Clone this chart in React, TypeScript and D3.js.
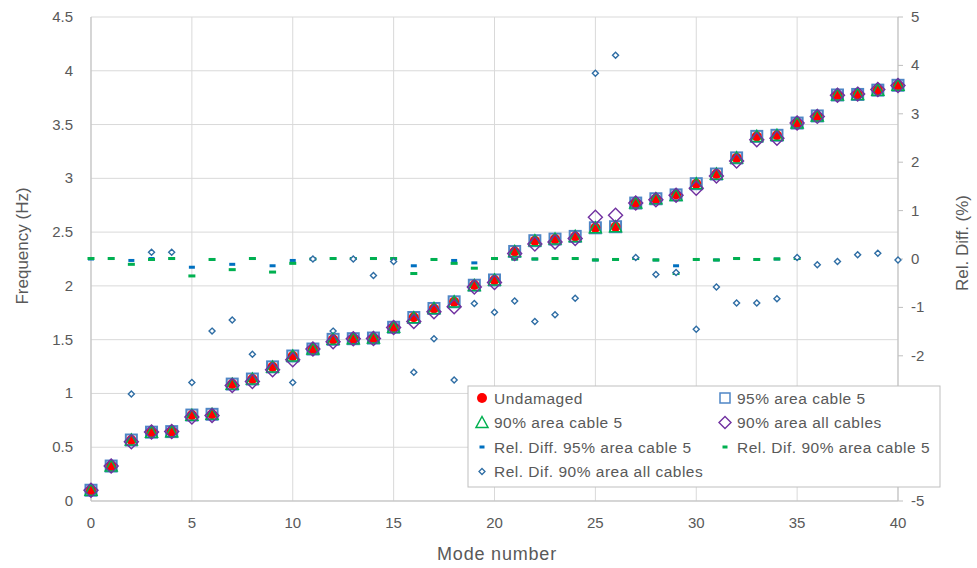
import React from 'react';
import * as d3 from 'd3';

// mode numbers 0..40
const modes = d3.range(0, 41);

// frequencies (Hz), left axis
const undamaged = [0.10, 0.325, 0.567, 0.64, 0.645, 0.80, 0.806, 1.088, 1.134, 1.249, 1.348, 1.413, 1.503, 1.509, 1.515, 1.615, 1.708, 1.79, 1.853, 2.008, 2.055,
  2.32, 2.42, 2.435, 2.46, 2.54, 2.55, 2.77, 2.81, 2.85, 2.95, 3.04, 3.19, 3.39, 3.40, 3.514, 3.58, 3.775, 3.78, 3.82, 3.865];
const area95cable5 = [0.10, 0.325, 0.567, 0.64, 0.645, 0.799, 0.806, 1.087, 1.134, 1.247, 1.348, 1.413, 1.503, 1.509, 1.515, 1.615, 1.706, 1.79, 1.852, 2.006, 2.055,
  2.32, 2.42, 2.435, 2.46, 2.54, 2.55, 2.77, 2.81, 2.846, 2.95, 3.04, 3.19, 3.39, 3.40, 3.514, 3.58, 3.775, 3.78, 3.82, 3.865];
const area90cable5 = [0.10, 0.325, 0.566, 0.64, 0.645, 0.797, 0.806, 1.086, 1.134, 1.246, 1.347, 1.413, 1.503, 1.509, 1.515, 1.615, 1.703, 1.79, 1.851, 2.004, 2.055,
  2.32, 2.42, 2.435, 2.46, 2.54, 2.55, 2.77, 2.81, 2.841, 2.95, 3.039, 3.19, 3.39, 3.40, 3.514, 3.58, 3.775, 3.78, 3.82, 3.865];
const area90all = [0.10, 0.325, 0.551, 0.641, 0.646, 0.78, 0.794, 1.074, 1.112, 1.221, 1.314, 1.413, 1.481, 1.509, 1.51, 1.614, 1.668, 1.76, 1.807, 1.99, 2.032,
  2.30, 2.389, 2.407, 2.44, 2.638, 2.657, 2.771, 2.801, 2.842, 2.907, 3.022, 3.161, 3.359, 3.372, 3.515, 3.576, 3.773, 3.783, 3.825, 3.864];

// relative differences (%), right axis
const relDiff95cable5 = [0, 0.01, -0.03, 0.01, 0.01, -0.17, -0.01, -0.11, 0.01, -0.14, -0.03, 0, 0.01, 0.01, 0.01, 0.01, -0.14, -0.01, -0.03, -0.08, 0.01,
  0, 0, 0.01, 0.01, -0.02, -0.01, 0.01, -0.02, -0.14, -0.01, -0.02, 0.01, -0.01, 0, 0.01, null, null, null, null, null];
const relDif90cable5 = [0.01, 0.01, -0.11, -0.01, 0.01, -0.35, -0.01, -0.22, 0.01, -0.27, -0.09, 0, 0.01, 0.01, 0.01, 0.01, -0.30, -0.01, -0.09, -0.19, 0.01,
  0, 0, 0.01, 0.01, -0.02, -0.01, 0.01, -0.02, -0.30, -0.01, -0.02, 0.01, -0.01, 0, 0.01, null, null, null, null, null];
const relDif90all = [null, null, -2.79, 0.14, 0.14, -2.55, -1.49, -1.26, -1.97, -2.25, -2.55, 0, -1.49, 0, -0.34, -0.05, -2.34, -1.65, -2.5, -0.92, -1.10,
  -0.87, -1.29, -1.15, -0.81, 3.84, 4.21, 0.03, -0.32, -0.28, -1.45, -0.58, -0.91, -0.91, -0.82, 0.03, -0.12, -0.05, 0.09, 0.12, -0.02];

const leftTicks = d3.range(0, 4.51, 0.5);
const rightTicks = d3.range(-5, 5.01, 1);
// -3 and -4 sit behind the legend box
const rightLabels = [5, 4, 3, 2, 1, 0, -1, -2, -5];
const xTicks = d3.range(0, 41, 5);

const legendItems = [
  'Undamaged', '95% area cable 5',
  '90% area cable 5', '90% area all cables',
  'Rel. Diff. 95% area cable 5', 'Rel. Dif. 90% area cable 5',
  'Rel. Dif. 90% area all cables',
];

const W = 977, H = 568;
const m = { left: 91, right: 898, top: 17, bottom: 501 };
const font = '"Liberation Sans", Arial, sans-serif';
const txt = '#595959';
const grid = '#d9d9d9';

const RED = '#ff0000';
const SQ = '#4f86c6';
const GREEN = '#00b050';
const PURPLE = '#7030a0';
const BLUE = '#0070c0';
const DKBLUE = '#2e6da4';

const fmt = (v: number) => (Math.round(v * 10) / 10).toString();

function Marker({ kind, x, y }: { kind: number; x: number; y: number }) {
  switch (kind) {
    case 0:
      return <circle cx={x} cy={y} r={5} fill={RED} />;
    case 1:
      return <rect x={x - 5.5} y={y - 5.5} width={11} height={11} fill="none" stroke={SQ} strokeWidth={2} />;
    case 2:
      return <path d={`M${x},${y - 6}L${x + 6},${y + 5}L${x - 6},${y + 5}Z`} fill="none" stroke={GREEN} strokeWidth={1.5} />;
    case 3:
      return <path d={`M${x},${y - 7}L${x + 7},${y}L${x},${y + 7}L${x - 7},${y}Z`} fill="none" stroke={PURPLE} strokeWidth={1.4} />;
    case 4:
      return <rect x={x - 3} y={y - 1.5} width={6} height={3} fill={BLUE} />;
    case 5:
      return <rect x={x - 3.5} y={y - 1.5} width={7} height={3} fill={GREEN} />;
    default:
      return <path d={`M${x},${y - 3}L${x + 3},${y}L${x},${y + 3}L${x - 3},${y}Z`} fill="white" stroke={DKBLUE} strokeWidth={1.4} />;
  }
}

export default function App() {
  const x = d3.scaleLinear().domain([0, 40]).range([m.left, m.right]);
  const yL = d3.scaleLinear().domain([0, 4.5]).range([m.bottom, m.top]);
  const yR = d3.scaleLinear().domain([-5, 5]).range([m.bottom, m.top]);

  const freqSeries = [undamaged, area95cable5, area90cable5, area90all];
  const relSeries = [relDiff95cable5, relDif90cable5, relDif90all];
  // draw order: squares, circles, triangles, diamonds
  const freqOrder = [1, 0, 2, 3];

  const lg = { x: 468, y: 386, w: 472, h: 101 };

  return (
    <svg width={W} height={H} style={{ position: 'absolute', left: 0, top: 0, background: 'white' }} fontFamily={font}>
      <rect width={W} height={H} fill="white" />
      {/* gridlines */}
      {leftTicks.map(t => (
        <line key={'h' + t} x1={m.left} x2={m.right} y1={yL(t)} y2={yL(t)} stroke={grid} strokeWidth={1} />
      ))}
      {xTicks.map(t => (
        <line key={'v' + t} x1={x(t)} x2={x(t)} y1={m.top} y2={m.bottom} stroke={grid} strokeWidth={1} />
      ))}
      {/* axes */}
      <line x1={m.left} x2={m.left} y1={m.top} y2={m.bottom} stroke="#bfbfbf" />
      <line x1={m.left} x2={m.right} y1={m.bottom} y2={m.bottom} stroke="#bfbfbf" />
      <line x1={m.right} x2={m.right} y1={m.top} y2={m.bottom} stroke="#bfbfbf" />
      {rightTicks.map(t => (
        <line key={'rt' + t} x1={m.right} x2={m.right + 5} y1={yR(t)} y2={yR(t)} stroke="#bfbfbf" />
      ))}
      {/* tick labels */}
      {leftTicks.map(t => (
        <text key={'lt' + t} x={73} y={yL(t) + 5} textAnchor="end" fontSize={15} fill={txt}>{fmt(t)}</text>
      ))}
      {rightLabels.map(t => (
        <text key={'rl' + t} x={911} y={yR(t) + 5} textAnchor="start" fontSize={15} fill={txt}>{fmt(t)}</text>
      ))}
      {xTicks.map(t => (
        <text key={'xl' + t} x={x(t)} y={528} textAnchor="middle" fontSize={15} fill={txt}>{t}</text>
      ))}
      {/* axis titles */}
      <text x={497} y={560} textAnchor="middle" fontSize={18} letterSpacing={0.8} fill={txt}>Mode number</text>
      <text transform={`translate(28,246) rotate(-90)`} textAnchor="middle" fontSize={17} fill={txt}>Frequency (Hz)</text>
      <text transform={`translate(968,243) rotate(-90)`} textAnchor="middle" fontSize={17} fill={txt}>Rel. Diff. (%)</text>

      {/* relative difference series */}
      {relSeries.map((s, si) => (
        <g key={'rs' + si}>
          {modes.map(i => s[i] == null ? null : (
            <Marker key={i} kind={4 + si} x={x(i)} y={yR(s[i] as number)} />
          ))}
        </g>
      ))}
      {/* frequency series */}
      {freqOrder.map(si => (
        <g key={'fs' + si}>
          {modes.map(i => (
            <Marker key={i} kind={si} x={x(i)} y={yL(freqSeries[si][i])} />
          ))}
        </g>
      ))}

      {/* legend */}
      <rect x={lg.x} y={lg.y} width={lg.w} height={lg.h} fill="white" stroke="#bfbfbf" />
      {legendItems.map((name, i) => {
        const col = i % 2, row = Math.floor(i / 2);
        const mx = lg.x + 14 + col * 243;
        const my = lg.y + 12 + row * 24.5;
        const kind = i;
        return (
          <g key={name}>
            {kind === 0 && <circle cx={mx} cy={my} r={5} fill={RED} />}
            {kind === 1 && <rect x={mx - 5} y={my - 5} width={10} height={10} fill="none" stroke={SQ} strokeWidth={1.5} />}
            {kind === 2 && <path d={`M${mx},${my - 6}L${mx + 6},${my + 5}L${mx - 6},${my + 5}Z`} fill="none" stroke={GREEN} strokeWidth={1.5} />}
            {kind === 3 && <path d={`M${mx},${my - 6}L${mx + 6},${my}L${mx},${my + 6}L${mx - 6},${my}Z`} fill="none" stroke={PURPLE} strokeWidth={1.4} />}
            {kind === 4 && <rect x={mx - 2.5} y={my - 1.5} width={5} height={3} fill={BLUE} />}
            {kind === 5 && <rect x={mx - 2.5} y={my - 1.5} width={5} height={3} fill={GREEN} />}
            {kind === 6 && <path d={`M${mx},${my - 3}L${mx + 3},${my}L${mx},${my + 3}L${mx - 3},${my}Z`} fill="white" stroke={DKBLUE} strokeWidth={1.3} />}
            <text x={mx + 12} y={my + 5.5} fontSize={15.5} letterSpacing={0.5} fill={txt}>{name}</text>
          </g>
        );
      })}
    </svg>
  );
}
